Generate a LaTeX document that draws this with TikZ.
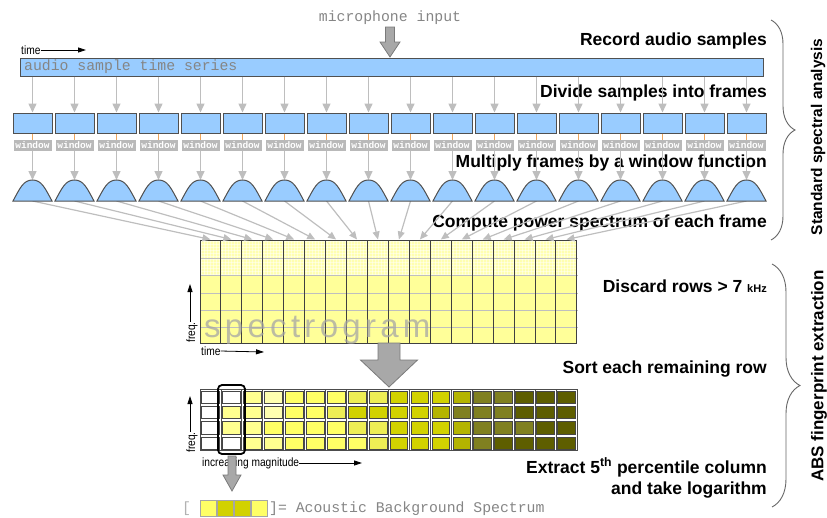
\documentclass[tikz,border=0pt]{standalone}
\usepackage{fontspec}
\setmainfont{Liberation Sans}
\setmonofont{Liberation Mono}
\usetikzlibrary{arrows.meta,patterns,decorations.pathreplacing}
\definecolor{barblue}{HTML}{99CCFF}
\definecolor{edgegray}{HTML}{505050}
\definecolor{arrgray}{HTML}{BEBEBE}
\definecolor{txtgray}{HTML}{858585}
\definecolor{spec}{HTML}{FFFF99}
\definecolor{specdisc}{HTML}{FFFFB0}
\definecolor{cW}{HTML}{FFFFFF}
\definecolor{cLa}{HTML}{FFFFB0}
\definecolor{cLb}{HTML}{FFFF90}
\definecolor{cY}{HTML}{FFFF66}
\definecolor{cYb}{HTML}{EEEE55}
\definecolor{cOa}{HTML}{D2D200}
\definecolor{cOb}{HTML}{B4B400}
\definecolor{cOc}{HTML}{808020}
\definecolor{cOd}{HTML}{5E5E00}
\definecolor{blockfill}{HTML}{A8A8A8}
\definecolor{blockedge}{HTML}{7A7A7A}
\newcommand{\myblockarrow}[6]{%
  \filldraw[blockar] ({#1-#5/2},#2) -- ({#1+#5/2},#2) -- ({#1+#5/2},#3) -- ({#1+#6/2},#3) -- (#1,#4) -- ({#1-#6/2},#3) -- ({#1-#5/2},#3) -- cycle;}
\begin{document}
\begin{tikzpicture}[x=1pt,y=-1pt,
  lab/.style={anchor=base east, inner sep=0, font=\fontsize{17.5}{20}\selectfont\bfseries},
  sidelab/.style={rotate=90, inner sep=0, font=\fontsize{15.5}{18}\selectfont\bfseries},
  monolab/.style={inner sep=0, text=txtgray, font=\fontsize{14.8}{16}\selectfont\ttfamily},
  smalllab/.style={inner sep=0, font=\fontsize{12}{12}\selectfont},
  frame/.style={draw=edgegray, fill=barblue, line width=1, minimum width=39, minimum height=20, inner sep=0},
  winlab/.style={fill=gray!55, text=white, minimum width=38, minimum height=11, inner sep=0, font=\fontsize{9.5}{9.5}\selectfont\ttfamily\bfseries},
  garrow/.style={draw=arrgray, line width=1.5, -{Triangle[length=9pt,width=8pt]}},
  sarrow/.style={draw=arrgray, line width=1.2, -{Triangle[length=8pt,width=7pt]}},
  karrow/.style={draw=black, line width=0.8, -{Triangle[length=8pt,width=5pt]}},
  tick/.style={draw=orange!60!brown!70, line width=0.8},
  speccol/.style={draw=black!75, line width=1, minimum width=20.94, minimum height=103, inner sep=0},
  sortcol/.style={draw=black!70, line width=0.8, minimum width=20.94, minimum height=61, inner sep=0},
  dome/.style={draw=edgegray, fill=barblue, line width=1},
  blockar/.style={fill=blockfill, draw=blockedge, line width=0.8},
  bracestyle/.style={draw=gray!80!black, line width=0.9, decorate}
]
\useasboundingbox (0,0) rectangle (827,517);

% ---- top: microphone and sample series
\node[monolab] (mic) at (390,18) {microphone input};
\myblockarrow{390}{27}{42}{57}{9}{20}
\node[smalllab, anchor=west] (t1) at (21,50) {\scalebox{0.85}[1]{time}};
\coordinate (t1e) at (86,50);
\draw[karrow] (t1.east) -- (t1e);
\node[draw=edgegray, fill=barblue, line width=1, minimum width=743, minimum height=18, inner sep=0] (bar) at (391.5,67) {};
\node[monolab, anchor=west] (bartxt) at (24,67) {audio sample time series};

\node[lab] (l1) at (767,45) {Record audio samples};
\node[lab] (l2) at (767,97) {Divide samples into frames};
\node[lab] (l3) at (767,167) {Multiply frames by a window function};
\node[lab] (l4) at (767,227) {Compute power spectrum of each frame};

% ---- spectrogram background
\fill[specdisc] (200,240) rectangle (577,275);
\fill[pattern=grid, pattern color=white, opacity=0.45] (200,240) rectangle (577,275);
\fill[spec] (200,275) rectangle (577,343);
\foreach \y in {258,275,293,310,327} \draw[gray!50, line width=0.9] (200,\y) -- (578,\y);

\foreach \i in {0,...,17}{
  \pgfmathsetmacro\cx{32.5+42*\i}
  \pgfmathsetmacro\sx{200+20.94*\i+10.47}
  \node[frame] (f\i) at (\cx,123) {};
  \node[winlab] (w\i) at (\cx,145.5) {window};
  \coordinate (dt\i) at (\cx,180);
  \coordinate (db\i) at (\cx,201);
  \node[speccol] (s\i) at (\sx,291.5) {};
}
\foreach \i in {0,...,17}{
  \draw[garrow] (bar.south -| f\i.north) -- (f\i.north);
  \draw[tick] (f\i.south) -- (w\i.north);
  \draw[garrow] (w\i.south) -- (dt\i);
  \draw[sarrow] (db\i) -- (s\i.north);
}
\foreach \i in {0,...,17}{
  \pgfmathsetmacro\xl{13+42*\i}
  \pgfmathsetmacro\xc{32.5+42*\i}
  \pgfmathsetmacro\xr{52+42*\i}
  \filldraw[dome] (\xl,201) .. controls (\xl+7,188) and (\xc-9,180) .. (\xc,180)
     .. controls (\xc+9,180) and (\xr-7,188) .. (\xr,201) -- cycle;
}

% spectrogram label and axes
\node[anchor=base west, inner sep=0, text=gray!70, opacity=0.75,
      font=\fontsize{33}{33}\selectfont\addfontfeatures{LetterSpace=13}] (sg) at (204,337) {spectrogram};
\node[smalllab, rotate=90, anchor=west] (fq1) at (192,343) {\scalebox{0.85}[1]{freq.}};
\coordinate (fq1e) at (190,284);
\draw[karrow] (fq1.east -| fq1e) -- (fq1e);
\node[smalllab, anchor=west] (t2) at (201,351) {\scalebox{0.85}[1]{time}};
\coordinate (t2e) at (264,352);
\draw[karrow] (t2.east) -- (t2e);

\node[lab] (l5) at (767,292) {Discard rows > 7 {\fontsize{11}{11}\selectfont kHz}};

% big arrow
\myblockarrow{389}{343}{360}{387}{22}{57}
\node[lab] (l6) at (767,373) {Sort each remaining row};

% ---- sorted matrix
\foreach \c/\ra/\rb/\rc/\rd in {0/cW/cW/cW/cW, 1/cW/cLb/cLb/cW, 2/cLb/cLb/cLb/cLb, 3/cLa/cLa/cY/cLb,
  4/cY/cY/cY/cY, 5/cY/cY/cY/cY, 6/cY/cYb/cY/cY, 7/cYb/cOa/cYb/cY, 8/cYb/cOa/cYb/cYb,
  9/cOa/cOa/cOa/cOa, 10/cOa/cOa/cOa/cOa, 11/cOa/cOb/cOa/cOa, 12/cOb/cOc/cOb/cOb,
  13/cOc/cOc/cOc/cOc, 14/cOc/cOc/cOc/cOd, 15/cOd/cOd/cOc/cOd, 16/cOd/cOd/cOd/cOd, 17/cOd/cOd/cOd/cOd}{
  \pgfmathsetmacro\xa{200+20.94*\c+1.6}
  \pgfmathsetmacro\xb{200+20.94*\c+20.94-1.6}
  \filldraw[fill=\ra, draw=gray!55!black, line width=0.7] (\xa,391) rectangle (\xb,403.5);
  \filldraw[fill=\rb, draw=gray!55!black, line width=0.7] (\xa,406) rectangle (\xb,418.5);
  \filldraw[fill=\rc, draw=gray!55!black, line width=0.7] (\xa,421.5) rectangle (\xb,434);
  \filldraw[fill=\rd, draw=gray!55!black, line width=0.7] (\xa,437) rectangle (\xb,449.5);
  \pgfmathsetmacro\mx{200+20.94*\c+10.47}
  \node[sortcol] (m\c) at (\mx,420) {};
}
\node[draw=black, line width=1.8, rounded corners=4, minimum width=27, minimum height=69, inner sep=0] (hl) at (231.5,419.5) {};
\node[smalllab, rotate=90, anchor=west] (fq2) at (192,453) {\scalebox{0.85}[1]{freq.}};
\coordinate (fq2e) at (190,396);
\draw[karrow] (fq2.east -| fq2e) -- (fq2e);
\node[smalllab, anchor=west] (im) at (202,463) {\scalebox{0.85}[1]{increasing magnitude}};
\coordinate (ime) at (362,463);
\draw[karrow] (im.east) -- (ime);

\myblockarrow{232}{456}{475}{491}{8}{18}

\node[lab] (l7) at (767,473) {Extract 5\textsuperscript{th} percentile column};
\node[lab] (l8) at (767,494) {and take logarithm};

% bottom ABS legend
\node[monolab, anchor=base west, text=gray!60] (lb) at (182,512) {[};
\foreach \k/\cc in {0/cY,1/cOa,2/cOa,3/cY}{
  \pgfmathsetmacro\xa{200+17*\k}
  \filldraw[fill=\cc, draw=gray!70, line width=1] (\xa,500) rectangle (\xa+16,516);
}
\node[monolab, anchor=base west] (rb) at (269,512) {]= Acoustic Background Spectrum};

% ---- braces and side labels
\coordinate (b1a) at (771,20);
\coordinate (b1b) at (771,240);
\draw[bracestyle, decoration={brace, amplitude=24pt}] (b1a) -- (b1b);
\node[sidelab] (sl1) at (818,137) {Standard spectral analysis};
\coordinate (b2a) at (772,264);
\coordinate (b2b) at (772,507);
\draw[bracestyle, decoration={brace, amplitude=28pt}] (b2a) -- (b2b);
\node[sidelab, font=\fontsize{17}{18}\selectfont\bfseries] (sl2) at (819,376) {ABS fingerprint extraction};
\end{tikzpicture}
\end{document}
